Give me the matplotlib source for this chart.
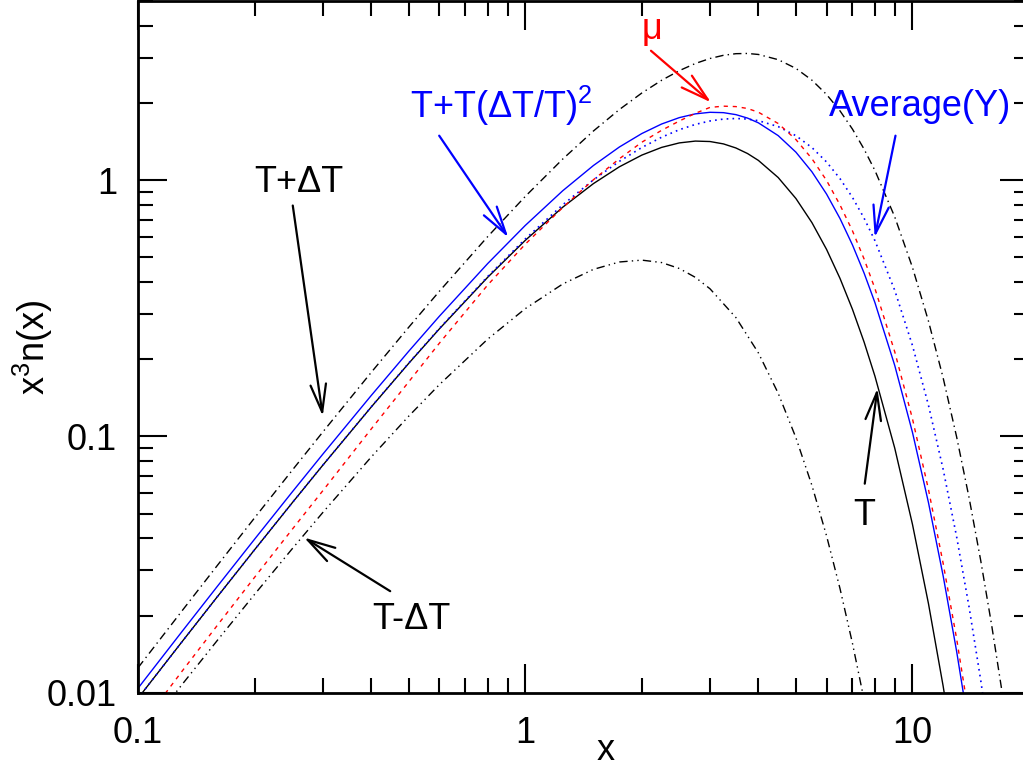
import matplotlib
matplotlib.use("Agg")
import matplotlib.pyplot as plt
from matplotlib.ticker import FixedLocator, FuncFormatter, LogLocator, NullFormatter

# sample points in x = h nu / kT
x_grid = [0.1, 0.13, 0.16, 0.2, 0.25, 0.3, 0.4, 0.5, 0.6, 0.8, 1.0, 1.25, 1.5, 1.75,
          2.0, 2.25, 2.5, 2.75, 3.0, 3.25, 3.5, 3.75, 4.0, 4.5, 5, 5.5, 6, 6.5, 7, 7.5,
          8, 9, 10, 11, 12, 13, 14, 15, 16, 17, 18]
x_cold = [0.12, 0.13, 0.16, 0.2, 0.25, 0.3, 0.4, 0.5, 0.6, 0.8, 1.0, 1.25, 1.5, 1.75,
          2.0, 2.25, 2.5, 2.75, 3.0, 3.5, 4.0, 4.5, 5, 5.5, 6, 6.5, 7, 7.5]

# x^3 n(x)
curve_t = [0.00951, 0.01583, 0.02361, 0.03613, 0.05501, 0.07717, 0.1301, 0.1927, 0.2627,
           0.4178, 0.5820, 0.7843, 0.9693, 1.1272, 1.2521, 1.3420, 1.3973, 1.4203, 1.4147,
           1.3848, 1.3350, 1.2701, 1.1941, 1.0237, 0.8480, 0.6827, 0.5367, 0.4135, 0.3131,
           0.2335, 0.1718, 0.0900, 0.0454, 0.02223, 0.01062, 0.00497]
curve_hot = [0.01251, 0.02089, 0.03127, 0.04810, 0.07369, 0.1040, 0.1776, 0.2665, 0.3683,
             0.6021, 0.8635, 1.2088, 1.555, 1.8854, 2.1873, 2.4522, 2.6746, 2.852, 2.983,
             3.0698, 3.1146, 3.121, 3.093, 2.952, 2.729, 2.455, 2.159, 1.863, 1.581, 1.321,
             1.0905, 0.7187, 0.4565, 0.2815, 0.1693, 0.09975, 0.05773, 0.0329, 0.0185,
             0.01028, 0.005656]
curve_cold = [0.00924, 0.01077, 0.01595, 0.02419, 0.03640, 0.05046, 0.08304, 0.1199, 0.1592,
              0.2397, 0.3151, 0.3934, 0.4486, 0.4793, 0.4874, 0.4769, 0.4521, 0.4175, 0.3768,
              0.2909, 0.2118, 0.1474, 0.0989, 0.0644, 0.04093, 0.02547, 0.01557, 0.00938]
curve_t2 = [0.01041, 0.01735, 0.02591, 0.03972, 0.06062, 0.08522, 0.1443, 0.2148, 0.2943,
            0.4727, 0.6654, 0.9093, 1.1404, 1.3465, 1.5197, 1.6558, 1.7536, 1.8139, 1.8394,
            1.8337, 1.8012, 1.7463, 1.6736, 1.4919, 1.2858, 1.0777, 0.8823, 0.7080, 0.5584,
            0.4339, 0.3327, 0.1892, 0.1037, 0.05513, 0.02860, 0.01453, 0.00725]
curve_avg_y = [0.00951, 0.01583, 0.02361, 0.03614, 0.05503, 0.07722, 0.1303, 0.1932, 0.2638,
               0.4209, 0.5894, 0.8013, 1.0024, 1.1838, 1.3406, 1.4705, 1.5733, 1.6497, 1.7016,
               1.7309, 1.7400, 1.7310, 1.7063, 1.6179, 1.4909, 1.3399, 1.1772, 1.0132, 0.8558,
               0.7105, 0.5805, 0.3715, 0.2263, 0.1322, 0.07447, 0.04067, 0.02162, 0.01123,
               0.00571]
curve_mu = [0.00718, 0.01214, 0.01826, 0.02820, 0.04334, 0.06136, 0.10681, 0.16322, 0.2310,
            0.3899, 0.5623, 0.7820, 1.0036, 1.2119, 1.4057, 1.5647, 1.7010, 1.8230, 1.9222,
            1.9437, 1.9363, 1.9035, 1.8410, 1.6635, 1.4401, 1.2124, 0.9970, 0.8000, 0.6338,
            0.4925, 0.3776, 0.2138, 0.1172, 0.0620, 0.0320, 0.01627, 0.00808]

x_ticks = [0.1, 1, 10]
y_ticks = [0.01, 0.1, 1]

plt.rcParams["font.family"] = ["Liberation Sans", "DejaVu Sans"]
plt.rcParams["mathtext.fontset"] = "custom"
plt.rcParams["mathtext.rm"] = "Liberation Sans"
plt.rcParams["mathtext.it"] = "Liberation Sans:italic"
plt.rcParams["mathtext.bf"] = "Liberation Sans:bold"

FS = 26
BLUE = "#0000ff"
RED = "#ff0000"


def draw_arrow(ax, tail, tip, color):
    ax.annotate("", xy=tip, xytext=tail,
                arrowprops=dict(arrowstyle="->,head_length=1.0,head_width=0.28",
                                color=color, lw=1.6, shrinkA=0, shrinkB=0,
                                mutation_scale=20))


fig = plt.figure(figsize=(10.23, 7.69), dpi=100)
ax = fig.add_axes([0.1349, 0.0992, 0.871, 0.8995])

ax.plot(x_grid[:len(curve_t)], curve_t, color="black", lw=1.0)
ax.plot(x_grid[:len(curve_hot)], curve_hot, color="black", lw=1.0, ls=(0, (6, 3, 1, 3)))
ax.plot(x_cold, curve_cold, color="black", lw=1.0, ls=(0, (6, 3, 1, 3, 1, 3)))
ax.plot(x_grid[:len(curve_t2)], curve_t2, color=BLUE, lw=1.0)
ax.plot(x_grid[:len(curve_avg_y)], curve_avg_y, color=BLUE, lw=1.2, ls=(0, (1, 2.5)))
ax.plot(x_grid[:len(curve_mu)], curve_mu, color=RED, lw=1.0, ls=(0, (3, 3.5)))

ax.set_xscale("log")
ax.set_yscale("log")
ax.set_xlim(0.1, 20)
ax.set_ylim(0.01, 5)

fmt = FuncFormatter(lambda v, _: f"{v:g}")
ax.xaxis.set_major_locator(FixedLocator(x_ticks))
ax.yaxis.set_major_locator(FixedLocator(y_ticks))
ax.xaxis.set_major_formatter(fmt)
ax.yaxis.set_major_formatter(fmt)
ax.xaxis.set_minor_locator(LogLocator(base=10, subs=range(2, 10)))
ax.yaxis.set_minor_locator(LogLocator(base=10, subs=range(2, 10)))
ax.xaxis.set_minor_formatter(NullFormatter())
ax.yaxis.set_minor_formatter(NullFormatter())

ax.tick_params(which="both", direction="in", top=True, right=True, width=1.5, labelsize=FS)
ax.tick_params(which="major", length=21)
ax.tick_params(which="minor", length=10.5)
ax.tick_params(axis="x", pad=17)
ax.tick_params(axis="y", pad=15)
for sp in ax.spines.values():
    sp.set_linewidth(2.0)

ax.set_xlabel("x", fontsize=FS)
ax.xaxis.label.set_verticalalignment("baseline")
ax.xaxis.set_label_coords(0.525, -0.097)
ax.set_ylabel(r"x$^3$n(x)", fontsize=FS)
ax.yaxis.set_label_coords(-0.093, 0.5)

# labels and arrows
ax.text(0.2606, 0.896, "T+\u0394T", fontsize=FS, ha="center", va="baseline")
draw_arrow(ax, (0.251, 0.796), (0.30, 0.12), "black")

ax.text(0.507, 0.0178, "T-\u0394T", fontsize=FS, ha="center", va="baseline")
draw_arrow(ax, (0.448, 0.0249), (0.2685, 0.0403), "black")

ax.text(0.8695, 1.753, "T+T(\u0394T/T)$^2$", fontsize=FS, color=BLUE, ha="center", va="baseline")
draw_arrow(ax, (0.5995, 1.491), (0.904, 0.598), BLUE)

ax.text(2.129, 3.56, "\u03bc", fontsize=FS, color=RED, ha="center", va="baseline")
draw_arrow(ax, (2.112, 3.198), (3.018, 2.011), RED)

ax.text(10.49, 1.784, "Average(Y)", fontsize=FS, color=BLUE, ha="center", va="baseline")
draw_arrow(ax, (9.04, 1.491), (7.99, 0.598), BLUE)

ax.text(7.52, 0.045, "T", fontsize=FS, ha="center", va="baseline")
draw_arrow(ax, (7.53, 0.0654), (8.12, 0.1539), "black")

fig.savefig("out.png", dpi=100)
plt.close(fig)
